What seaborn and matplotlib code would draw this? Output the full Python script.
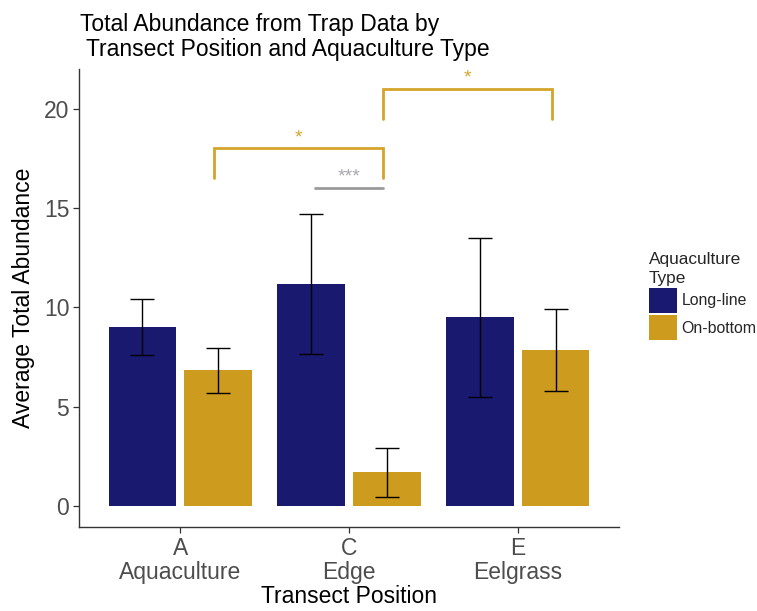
import numpy as np
import pandas as pd
import matplotlib
matplotlib.use("Agg")
import matplotlib.pyplot as plt
import seaborn as sns
from matplotlib.patches import Patch

# Mean trap abundance per transect position and aquaculture type
positions = ["A\nAquaculture", "C\nEdge", "E\nEelgrass"]
types = ["Long-line", "On-bottom"]
longline_mean = [9.0, 11.2, 9.5]
onbottom_mean = [6.85, 1.7, 7.85]
longline_lo = [7.6, 7.65, 5.5]
longline_hi = [10.4, 14.7, 13.5]
onbottom_lo = [5.7, 0.45, 5.8]
onbottom_hi = [7.95, 2.9, 9.9]

# Significance brackets
bracket_x = [(0.2, 1.2), (1.2, 2.2)]
bracket_y = [18.0, 21.0]
bracket_leg = [16.5, 19.5]
bracket_txt = ["*", "*"]
line_x = (0.8, 1.2)
line_y = 16.0
line_txt = "***"

navy = "#191970"
gold = "#CD9B1D"
gold_line = "#D4A52A"
grey_line = "#9A9A9A"

df = pd.DataFrame({
    "Transect Position": positions * 2,
    "Aquaculture Type": [types[0]] * 3 + [types[1]] * 3,
    "Average Total Abundance": longline_mean + onbottom_mean,
})

sns.set_style("white")
plt.rcParams["font.family"] = ["Liberation Sans", "DejaVu Sans"]

W, H = 757, 611
fig = plt.figure(figsize=(W / 100, H / 100), dpi=100)
ax = fig.add_axes([79 / W, 1 - 527 / H, (619 - 79) / W, (527 - 69) / H])

sns.barplot(data=df, x="Transect Position", y="Average Total Abundance",
            hue="Aquaculture Type", hue_order=types, order=positions,
            palette=[navy, gold], width=0.9, gap=0.111, errorbar=None,
            saturation=1, ax=ax, legend=False, linewidth=0)

# Error bars
off = 0.225
xs = np.arange(len(positions))
for sign, mean, lo, hi in [(-1, longline_mean, longline_lo, longline_hi),
                           (1, onbottom_mean, onbottom_lo, onbottom_hi)]:
    m = np.array(mean)
    ax.errorbar(xs + sign * off, m, yerr=[m - np.array(lo), np.array(hi) - m],
                fmt="none", ecolor="black", elinewidth=1.0, capsize=8.5,
                capthick=1.0, zorder=3)

# Significance annotations
for (x0, x1), yb, yl, t in zip(bracket_x, bracket_y, bracket_leg, bracket_txt):
    ax.plot([x0, x0, x1, x1], [yl, yb, yb, yl], color=gold_line, lw=2,
            solid_joinstyle="miter", zorder=4)
    ax.text((x0 + x1) / 2, yb + 0.55, t, color=gold_line, ha="center",
            va="center", fontsize=14)
ax.plot(line_x, [line_y, line_y], color=grey_line, lw=2, zorder=4)
ax.text(sum(line_x) / 2, line_y + 0.55, line_txt, color="#A8A8B0",
        ha="center", va="center", fontsize=14)

ax.set_xlim(-0.6, 2.6)
ax.set_ylim(-1.06, 22.0)
ax.set_yticks([0, 5, 10, 15, 20])

for s in ["top", "right"]:
    ax.spines[s].set_visible(False)
for s in ["left", "bottom"]:
    ax.spines[s].set_color("#333333")
    ax.spines[s].set_linewidth(1.0)

ax.tick_params(axis="both", which="major", length=4, width=0.9,
               color="#333333", labelcolor="#4D4D4D", labelsize=16.5,
               direction="out", left=True, bottom=True, pad=3)
for lab in ax.get_xticklabels():
    lab.set_linespacing(1.05)

ax.set_xlabel("Transect Position", fontsize=16.5, color="black", labelpad=1)
ax.set_ylabel("Average Total Abundance", fontsize=16.5, color="black",
              labelpad=6)

fig.text(80 / W, 1 - 13 / H,
         "Total Abundance from Trap Data by\n Transect Position and Aquaculture Type",
         ha="left", va="top", fontsize=16.5, color="black", linespacing=1.1)

handles = [Patch(facecolor=navy, edgecolor="none"),
           Patch(facecolor=gold, edgecolor="none")]
leg = fig.legend(handles, types, title="Aquaculture\nType",
                 loc="upper left", bbox_to_anchor=(649 / W, 1 - 252 / H),
                 frameon=False, fontsize=11.4, title_fontsize=12.4,
                 handlelength=1.75, handleheight=2.1, labelspacing=0.12,
                 handletextpad=0.3, borderaxespad=0, borderpad=0,
                 alignment="left")
leg.get_title().set_linespacing(1.3)

fig.savefig("out.png", dpi=100)
